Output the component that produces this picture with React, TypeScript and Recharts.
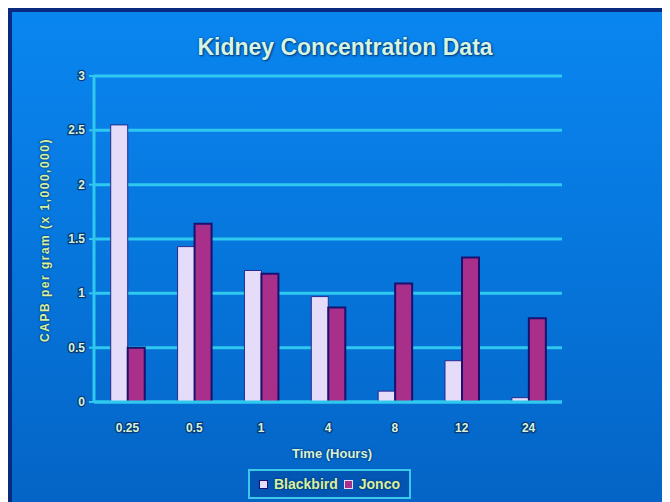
import React from "react";
import { BarChart, Bar, XAxis, YAxis, CartesianGrid } from "recharts";

const categories = ["0.25", "0.5", "1", "4", "8", "12", "24"];
const blackbird = [2.55, 1.43, 1.21, 0.97, 0.1, 0.38, 0.04];
const jonco = [0.5, 1.64, 1.18, 0.87, 1.09, 1.33, 0.77];
const yTicks = [0, 0.5, 1, 1.5, 2, 2.5, 3];

const data = categories.map((c, i) => ({ time: c, Blackbird: blackbird[i], Jonco: jonco[i] }));

const TXT = "#d6f2d8";
const OUT = "#063a78";
const GRID = "#2fc8ef";
const font = "'Liberation Sans', Arial, sans-serif";

const YTick = (props: any) => {
  const { x, y, payload } = props;
  return (
    <text x={x - 2} y={y} dy={4} textAnchor="end" fill={TXT} stroke={OUT} strokeWidth={2.5}
      paintOrder="stroke" fontSize={12} fontWeight="bold" fontFamily={font}>
      {payload.value}
    </text>
  );
};

const XTick = (props: any) => {
  const { x, y, payload } = props;
  return (
    <text x={x} y={y + 22} textAnchor="middle" fill={TXT} stroke={OUT} strokeWidth={2.5}
      paintOrder="stroke" fontSize={12} fontWeight="bold" fontFamily={font}>
      {payload.value}
    </text>
  );
};

export default function App() {
  return (
    <div style={{
      position: "relative", width: 658, height: 490,
      borderTop: "4px solid #0a2a80", borderLeft: "4px solid #0a2a80",
      background: "linear-gradient(180deg, #0a86f0 0%, #0676dc 50%, #0564c6 100%)",
    }}>
      <div style={{
        position: "absolute", top: 22, left: 0, width: 666, textAlign: "center",
        fontFamily: font, fontWeight: "bold", fontSize: 23, color: "#d4f4e4",
        textShadow: "0 0 2px #063a78, 1px 1px 2px #063a78",
      }}>
        Kidney Concentration Data
      </div>
      <div style={{
        position: "absolute", left: 33, top: 228, transform: "translate(-50%, -50%) rotate(-90deg)",
        whiteSpace: "nowrap", fontFamily: font, fontWeight: "bold", fontSize: 12, letterSpacing: 1.5,
        color: "#d8f0a0", textShadow: "0 0 2px #063a78, 0 0 2px #063a78",
      }}>
        CAPB per gram (x 1,000,000)
      </div>
      <div style={{
        position: "absolute", left: 0, width: 640, top: 434, textAlign: "center",
        fontFamily: font, fontWeight: "bold", fontSize: 13, color: "#d6f2d8",
        textShadow: "0 0 2px #063a78, 0 0 2px #063a78",
      }}>
        Time (Hours)
      </div>
      <div style={{ position: "absolute", left: 236, top: 457, width: 163, height: 30, boxSizing: "border-box",
        border: "2px solid #3cc8e8", display: "flex", alignItems: "center", justifyContent: "center",
        gap: 6, fontFamily: font, fontWeight: "bold", fontSize: 14, color: "#d8f0a0",
        textShadow: "0 0 2px #063a78, 0 0 2px #063a78", background: "rgba(0,40,120,0.25)",
      }}>
        <span style={{ width: 7, height: 7, background: "#e4dcf8", border: "1px solid #1a1070", display: "inline-block" }} />
        <span>Blackbird</span>
        <span style={{ width: 7, height: 7, background: "#a8308a", border: "1px solid #e4dcf8", display: "inline-block" }} />
        <span>Jonco</span>
      </div>
      <BarChart width={658} height={490} data={data}
        margin={{ top: 64, right: 108, left: 42, bottom: 70 }}
        barCategoryGap="25%" barGap={0}>
        <CartesianGrid yAxisId="l" vertical={false} stroke={GRID} strokeWidth={3} />
        <XAxis dataKey="time" tick={<XTick />} tickLine={false} axisLine={{ stroke: GRID, strokeWidth: 3 }} height={30} />
        <YAxis yAxisId="l" domain={[0, 3]} ticks={yTicks} tick={<YTick />} width={40}
          axisLine={{ stroke: GRID, strokeWidth: 3 }} tickLine={{ stroke: GRID, strokeWidth: 2 }} tickSize={5} />
        <YAxis yAxisId="r" orientation="right" domain={[0, 3]} ticks={yTicks} tick={false} width={0}
          axisLine={{ stroke: GRID, strokeWidth: 3 }} tickLine={false} />
        <Bar yAxisId="l" dataKey="Blackbird" fill="#e4dcf8" stroke="#2a2a90" strokeWidth={1} isAnimationActive={false} />
        <Bar yAxisId="l" dataKey="Jonco" fill="#a8308a" stroke="#1a1070" strokeWidth={2} isAnimationActive={false} />
      </BarChart>
    </div>
  );
}
